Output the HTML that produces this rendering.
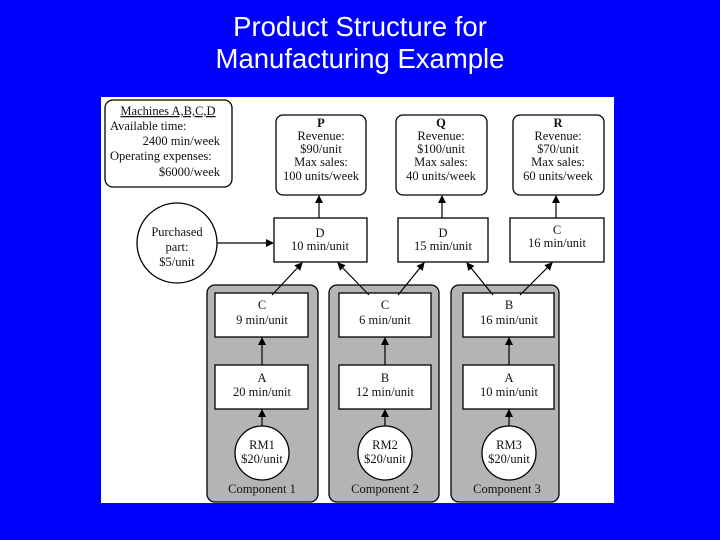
<!DOCTYPE html>
<html><head><meta charset="utf-8"><style>
body{margin:0;width:720px;height:540px;background:#0000fe;overflow:hidden}
.t{position:absolute;left:0;width:720px;text-align:center;color:#fff;font:27.5px "Liberation Sans",sans-serif;line-height:32px;top:11px}
svg{position:absolute;left:0;top:0}
text{font-family:"Liberation Serif",serif;font-size:12.5px;fill:#111;text-anchor:middle}
</style></head><body>
<div class="t">Product Structure for<br>Manufacturing Example</div>
<svg width="720" height="540">
<defs><marker id="a" markerWidth="8" markerHeight="8" refX="7" refY="4" orient="auto" markerUnits="userSpaceOnUse"><path d="M0,0L8,4L0,8z" fill="#000"/></marker></defs>
<rect x="101" y="97" width="513" height="406" fill="#fff"/>
<g stroke="#000" stroke-width="1.3" fill="#fff">
<rect x="105" y="100" width="127" height="87" rx="8"/>
<rect x="276" y="115" width="90" height="80" rx="7"/>
<rect x="396" y="115" width="91" height="80" rx="7"/>
<rect x="513" y="115" width="91" height="80" rx="7"/>
<circle cx="177" cy="243" r="40"/>
<rect x="274" y="218" width="93" height="44"/>
<rect x="398" y="218" width="90" height="44"/>
<rect x="510" y="218" width="94" height="44"/>
<rect x="207" y="285" width="111" height="217" rx="8" fill="#b4b4b4"/>
<rect x="329" y="285" width="110" height="217" rx="8" fill="#b4b4b4"/>
<rect x="451" y="285" width="108" height="217" rx="8" fill="#b4b4b4"/>
<rect x="215" y="293" width="93" height="44"/><rect x="215" y="365" width="93" height="44"/><circle cx="262" cy="453" r="27"/>
<rect x="339" y="293" width="92" height="44"/><rect x="339" y="365" width="92" height="44"/><circle cx="385" cy="453" r="27"/>
<rect x="463" y="293" width="91" height="44"/><rect x="463" y="365" width="91" height="44"/><circle cx="509" cy="453" r="27"/>
</g>
<g stroke="#000" stroke-width="1.2" marker-end="url(#a)">
<line x1="319" y1="218" x2="319" y2="196"/><line x1="442" y1="218" x2="442" y2="196"/><line x1="556" y1="218" x2="556" y2="196"/>
<line x1="217" y1="243" x2="273" y2="243"/>
<line x1="272" y1="295" x2="302" y2="263"/>
<line x1="369" y1="295" x2="338" y2="263"/><line x1="398" y1="295" x2="424" y2="263"/>
<line x1="493" y1="295" x2="467" y2="263"/><line x1="520" y1="295" x2="552" y2="263"/>
<line x1="262" y1="365" x2="262" y2="338"/><line x1="385" y1="365" x2="385" y2="338"/><line x1="509" y1="365" x2="509" y2="338"/>
<line x1="262" y1="426" x2="262" y2="410"/><line x1="385" y1="426" x2="385" y2="410"/><line x1="509" y1="426" x2="509" y2="410"/>
</g>
<text x="168" y="115" text-decoration="underline">Machines A,B,C,D</text>
<text x="110" y="130" style="text-anchor:start">Available time:</text>
<text x="220" y="145" style="text-anchor:end">2400 min/week</text>
<text x="110" y="160" style="text-anchor:start">Operating expenses:</text>
<text x="220" y="176" style="text-anchor:end">$6000/week</text>
<g><text x="321" y="127" font-weight="bold">P</text><text x="321" y="140">Revenue:</text><text x="321" y="153">$90/unit</text><text x="321" y="166">Max sales:</text><text x="321" y="180">100 units/week</text></g>
<g><text x="441" y="127" font-weight="bold">Q</text><text x="441" y="140">Revenue:</text><text x="441" y="153">$100/unit</text><text x="441" y="166">Max sales:</text><text x="441" y="180">40 units/week</text></g>
<g><text x="558" y="127" font-weight="bold">R</text><text x="558" y="140">Revenue:</text><text x="558" y="153">$70/unit</text><text x="558" y="166">Max sales:</text><text x="558" y="180">60 units/week</text></g>
<text x="177" y="236">Purchased</text><text x="177" y="251">part:</text><text x="177" y="266">$5/unit</text>
<text x="320" y="237">D</text><text x="320" y="250">10 min/unit</text>
<text x="443" y="237">D</text><text x="443" y="250">15 min/unit</text>
<text x="557" y="234">C</text><text x="557" y="247">16 min/unit</text>
<text x="262" y="309">C</text><text x="262" y="324">9 min/unit</text>
<text x="385" y="309">C</text><text x="385" y="324">6 min/unit</text>
<text x="509" y="309">B</text><text x="509" y="324">16 min/unit</text>
<text x="262" y="382">A</text><text x="262" y="396">20 min/unit</text>
<text x="385" y="382">B</text><text x="385" y="396">12 min/unit</text>
<text x="509" y="382">A</text><text x="509" y="396">10 min/unit</text>
<text x="262" y="449">RM1</text><text x="262" y="463">$20/unit</text>
<text x="385" y="449">RM2</text><text x="385" y="463">$20/unit</text>
<text x="509" y="449">RM3</text><text x="509" y="463">$20/unit</text>
<text x="262" y="493">Component 1</text><text x="385" y="493">Component 2</text><text x="507" y="493">Component 3</text>
</svg>
</body></html>
